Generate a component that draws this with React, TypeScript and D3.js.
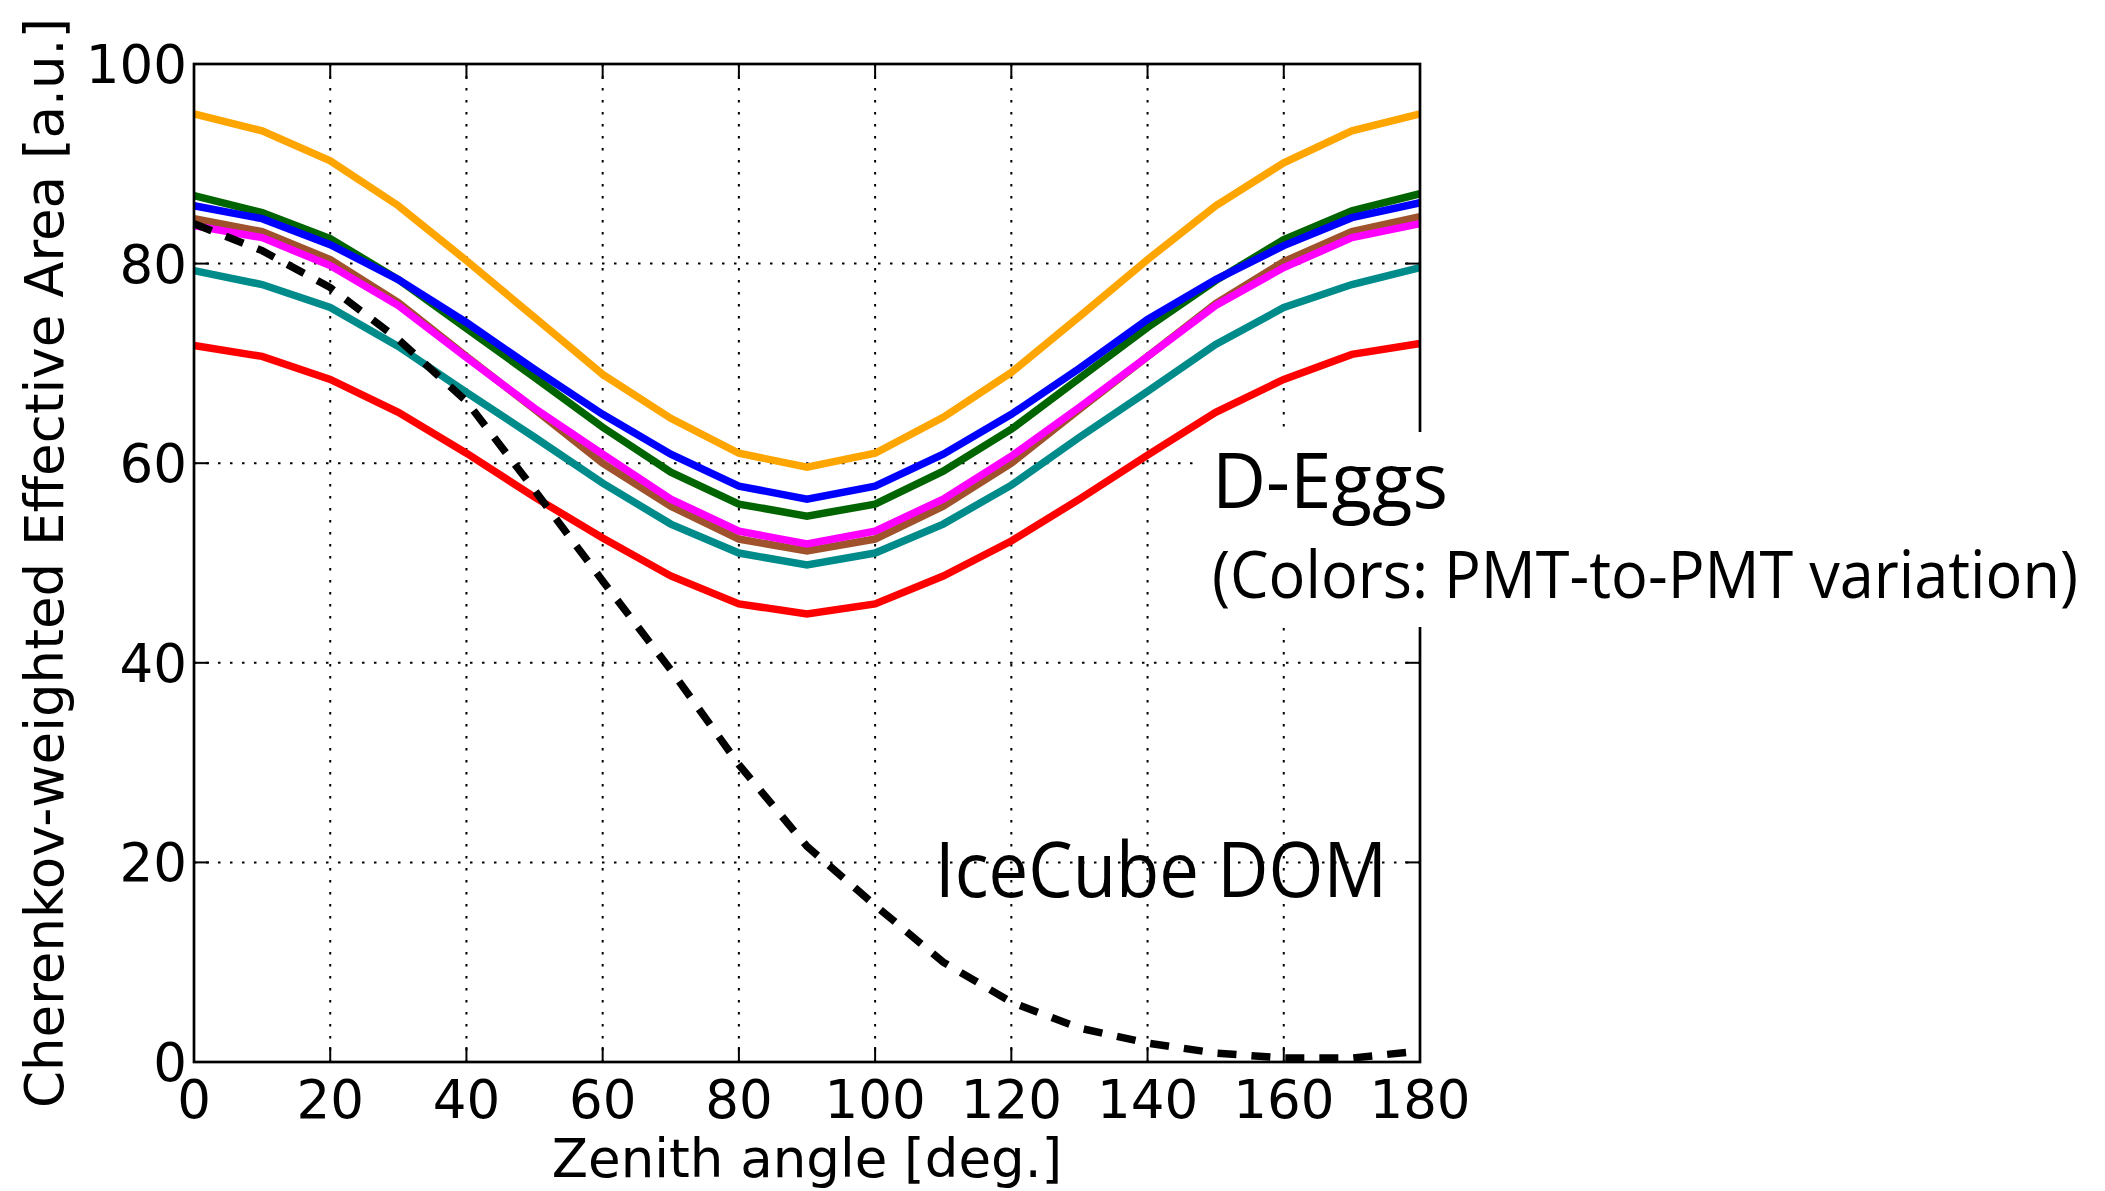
import React from "react";
import * as d3 from "d3";

const zenith = [0, 10, 20, 30, 40, 50, 60, 70, 80, 90, 100, 110, 120, 130, 140, 150, 160, 170, 180];

const orangeVals = [95.0, 93.3, 90.3, 85.8, 80.3, 74.6, 68.9, 64.5, 61.0, 59.6, 61.0, 64.6, 69.1, 74.7, 80.4, 85.8, 90.1, 93.3, 95.0];
const greenVals = [86.8, 85.1, 82.5, 78.4, 73.5, 68.6, 63.6, 59.1, 55.9, 54.7, 55.9, 59.2, 63.4, 68.5, 73.6, 78.3, 82.4, 85.3, 87.0];
const blueVals = [85.8, 84.5, 81.9, 78.4, 74.1, 69.4, 64.9, 60.9, 57.7, 56.4, 57.7, 60.9, 64.9, 69.5, 74.4, 78.4, 81.8, 84.6, 86.1];
const brownVals = [84.5, 83.2, 80.4, 76.1, 70.7, 65.4, 60.0, 55.7, 52.4, 51.2, 52.4, 55.7, 60.0, 65.4, 70.7, 76.0, 80.2, 83.2, 84.7];
const magentaVals = [83.8, 82.6, 79.8, 75.8, 70.6, 65.5, 60.9, 56.4, 53.2, 51.9, 53.2, 56.4, 60.7, 65.6, 70.7, 75.8, 79.6, 82.6, 84.0];
const tealVals = [79.3, 77.9, 75.6, 71.7, 67.1, 62.6, 58.0, 53.9, 51.0, 49.8, 51.0, 53.9, 57.8, 62.6, 67.2, 71.9, 75.6, 77.9, 79.6];
const redVals = [71.8, 70.7, 68.4, 65.1, 61.0, 56.6, 52.5, 48.7, 45.9, 44.9, 45.9, 48.7, 52.2, 56.4, 60.8, 65.1, 68.4, 70.9, 72.0];
const icecubeVals = [84.0, 81.3, 77.6, 72.4, 66.2, 57.3, 48.2, 39.3, 29.8, 21.6, 15.7, 10.0, 6.0, 3.4, 1.9, 0.9, 0.4, 0.4, 1.1];

const xTicks = [0, 20, 40, 60, 80, 100, 120, 140, 160, 180];
const yTicks = [0, 20, 40, 60, 80, 100];

const series = [
  { name: "green", values: greenVals, color: "#006400" },
  { name: "blue", values: blueVals, color: "#0000ff" },
  { name: "brown", values: brownVals, color: "#a0522d" },
  { name: "magenta", values: magentaVals, color: "#ff00ff" },
  { name: "teal", values: tealVals, color: "#008b8b" },
  { name: "red", values: redVals, color: "#ff0000" },
  { name: "orange", values: orangeVals, color: "#ffa500" },
];

export default function App() {
  const W = 2105, H = 1191;
  const left = 194, right = 1420, top = 64, bottom = 1062;
  const x = d3.scaleLinear().domain([0, 180]).range([left, right]);
  const y = d3.scaleLinear().domain([0, 100]).range([bottom, top]);
  const line = d3.line<number>().x((_, i) => x(zenith[i])).y((v) => y(v));
  const tickFont = "'DejaVu Sans', sans-serif";
  const annFont = "'Open Sans', sans-serif";
  const fs = 53;

  return (
    <svg width={W} height={H} style={{ position: "absolute", left: 0, top: 0, background: "#fff" }}>
      <rect x={0} y={0} width={W} height={H} fill="#fff" />
      {xTicks.slice(1, -1).map((t) => (
        <line key={"gx" + t} x1={x(t)} x2={x(t)} y1={top} y2={bottom} stroke="#000" strokeWidth={2} strokeDasharray="2.5 9.5" />
      ))}
      {yTicks.slice(1, -1).map((t) => (
        <line key={"gy" + t} x1={left} x2={right} y1={y(t)} y2={y(t)} stroke="#000" strokeWidth={2} strokeDasharray="2.5 9.5" />
      ))}
      {series.map((s) => (
        <path key={s.name} d={line(s.values) || ""} fill="none" stroke={s.color} strokeWidth={7.5} strokeLinejoin="miter" />
      ))}
      <path d={line(icecubeVals) || ""} fill="none" stroke="#000" strokeWidth={7.5} strokeDasharray="19 15" />
      {xTicks.map((t) => (
        <g key={"tx" + t}>
          <line x1={x(t)} x2={x(t)} y1={bottom} y2={bottom - 15} stroke="#000" strokeWidth={2} />
          <line x1={x(t)} x2={x(t)} y1={top} y2={top + 15} stroke="#000" strokeWidth={2} />
          <text x={x(t)} y={1118} textAnchor="middle" fontFamily={tickFont} fontSize={fs} fill="#000">{t}</text>
        </g>
      ))}
      {yTicks.map((t) => (
        <g key={"ty" + t}>
          <line x1={left} x2={left + 15} y1={y(t)} y2={y(t)} stroke="#000" strokeWidth={2} />
          <line x1={right} x2={right - 15} y1={y(t)} y2={y(t)} stroke="#000" strokeWidth={2} />
          <text x={187} y={y(t) + 19} textAnchor="end" fontFamily={tickFont} fontSize={fs} fill="#000">{t}</text>
        </g>
      ))}
      <rect x={left} y={top} width={right - left} height={bottom - top} fill="none" stroke="#000" strokeWidth={2.7} />
      <rect x={1195} y={432} width={900} height={195} fill="#fff" />
      <text x={1212} y={508} fontFamily={annFont} fontSize={77} textLength={236} lengthAdjust="spacingAndGlyphs" fill="#000">D-Eggs</text>
      <text x={1212} y={598} fontFamily={annFont} fontSize={66} textLength={866} lengthAdjust="spacingAndGlyphs" fill="#000">(Colors: PMT-to-PMT variation)</text>
      <text x={935} y={897} fontFamily={annFont} fontSize={77} textLength={452} lengthAdjust="spacingAndGlyphs" fill="#000">IceCube DOM</text>
      <text x={(left + right) / 2} y={1177} textAnchor="middle" fontFamily={tickFont} fontSize={fs} fill="#000">Zenith angle [deg.]</text>
      <text transform={`translate(63, ${(top + bottom) / 2}) rotate(-90)`} textAnchor="middle" fontFamily={tickFont} fontSize={fs} fill="#000">Cherenkov-weighted Effective Area [a.u.]</text>
    </svg>
  );
}
